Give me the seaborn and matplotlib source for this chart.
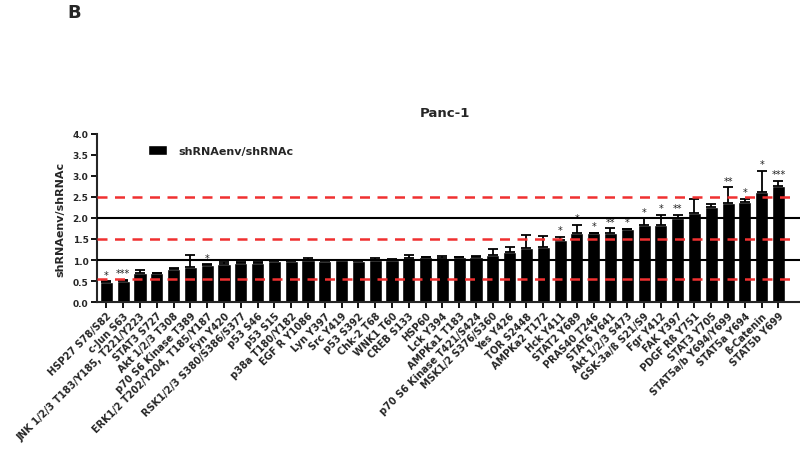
import numpy as np
import pandas as pd
import matplotlib
matplotlib.use("Agg")
import matplotlib.pyplot as plt
import seaborn as sns

# Datos (Panc-1)
etiquetas = [
    "HSP27 S78/S82", "c-Jun S63", "JNK 1/2/3 T183/Y185, T221/Y223", "STAT3 S727",
    "Akt 1/2/3 T308", "p70 S6 Kinase T389", "ERK1/2 T202/Y204, T185/Y187", "Fyn Y420",
    "RSK1/2/3 S380/S386/S377", "p53 S46", "p53 S15", "p38a T180/Y182", "EGF R Y1086",
    "Lyn Y397", "Src Y419", "p53 S392", "Chk-2 T68", "WNK1 T60", "CREB S133", "HSP60",
    "Lck Y394", "AMPKa1 T183", "p70 S6 Kinase T421/S424", "MSK1/2 S376/S360", "Yes Y426",
    "TOR S2448", "AMPKa2 T172", "Hck Y411", "STAT2 Y689", "PRAS40 T246", "STAT6 Y641",
    "Akt 1/2/3 S473", "GSK-3a/ß S21/S9", "Fgr Y412", "FAK Y397", "PDGF Rß Y751",
    "STAT3 Y705", "STAT5a/b Y694/Y699", "STAT5a Y694", "ß-Catenin", "STAT5b Y699",
]
valores = [
    0.47, 0.51, 0.69, 0.69, 0.79, 0.83, 0.88, 0.90, 0.93, 0.94, 0.98, 0.98, 1.00,
    0.98, 0.99, 0.98, 1.00, 1.00, 1.04, 1.06, 1.04, 1.06, 1.08, 1.12, 1.18, 1.28,
    1.32, 1.48, 1.64, 1.64, 1.64, 1.74, 1.83, 1.83, 1.99, 2.11, 2.26, 2.35, 2.39,
    2.63, 2.77,
]
errores = [
    0.02, 0.02, 0.08, 0.01, 0.02, 0.29, 0.02, 0.05, 0.03, 0.01, 0.01, 0.01, 0.04,
    0.01, 0.02, 0.01, 0.05, 0.03, 0.08, 0.02, 0.06, 0.01, 0.02, 0.14, 0.13, 0.32,
    0.24, 0.07, 0.19, 0.00, 0.11, 0.00, 0.16, 0.24, 0.08, 0.34, 0.07, 0.38, 0.06,
    0.50, 0.11,
]
significancia = [
    "*", "***", "", "", "", "", "*", "", "", "", "", "", "", "", "", "", "", "",
    "", "", "", "", "", "", "", "", "", "*", "*", "*", "**", "*", "*", "*", "**",
    "", "", "**", "*", "*", "***",
]
lineas_rojas = [0.55, 1.5, 2.5]
lineas_negras = [1.0, 2.0]

df = pd.DataFrame({"proteina": etiquetas, "ratio": valores, "sem": errores})

sns.set_theme(style="ticks")
plt.rcParams["font.family"] = ["DejaVu Sans"]
plt.rcParams["font.weight"] = "bold"

fig = plt.figure(figsize=(8, 4.56), dpi=100)
ax = fig.add_axes([0.121, 0.3355, 0.879, 0.3685])

sns.barplot(data=df, x="proteina", y="ratio", color="black", width=0.78,
            saturation=1, errorbar=None, label="shRNAenv/shRNAc", ax=ax)

x = np.arange(len(etiquetas))
ax.errorbar(x, df["ratio"], yerr=[np.zeros(len(x)), df["sem"]], fmt="none",
            ecolor="black", elinewidth=1.3, capsize=3.5, capthick=1.3, zorder=3)

for xi, v, e, s in zip(x, valores, errores, significancia):
    if s:
        ax.text(xi, v + e + 0.04, s, ha="center", va="bottom", fontsize=7,
                fontweight="normal", color="#222222")

ax.set_xlim(-0.57, 41.28)
ax.set_ylim(0, 4.0)
for y in lineas_rojas:
    ax.hlines(y, -0.57, 40.7, colors="#f03030", linestyles=(0, (4, 3)), linewidth=1.8, zorder=4)
for y in lineas_negras:
    ax.axhline(y, color="black", linewidth=1.5, zorder=4)

ax.set_yticks(np.arange(0, 4.01, 0.5))
ax.set_yticklabels([f"{t:.1f}" for t in np.arange(0, 4.01, 0.5)], fontsize=6.5, fontweight="bold")
ax.set_xticks(x)
ax.set_xticklabels(etiquetas, rotation=45, ha="right", rotation_mode="anchor",
                   fontsize=7.0, fontweight="bold")
ax.tick_params(axis="both", direction="out", length=4, width=1.3, color="black", pad=2)
ax.set_xlabel("")
ax.set_ylabel("shRNAenv/shRNAc", fontsize=8.0, fontweight="bold", labelpad=5)
sns.despine(ax=ax)
ax.spines["left"].set_linewidth(1.5)
ax.spines["bottom"].set_linewidth(1.5)

ax.legend(loc="upper left", bbox_to_anchor=(0.058, 0.995), frameon=False,
          handlelength=1.75, handleheight=1.0, handletextpad=1.0,
          prop={"size": 8.0, "weight": "bold"})

fig.text(0.556, 0.752, "Panc-1", ha="center", va="center", fontsize=9.5, fontweight="bold")
fig.text(0.084, 0.972, "B", ha="left", va="center", fontsize=13, fontweight="bold")

fig.savefig("out.png", dpi=100)
